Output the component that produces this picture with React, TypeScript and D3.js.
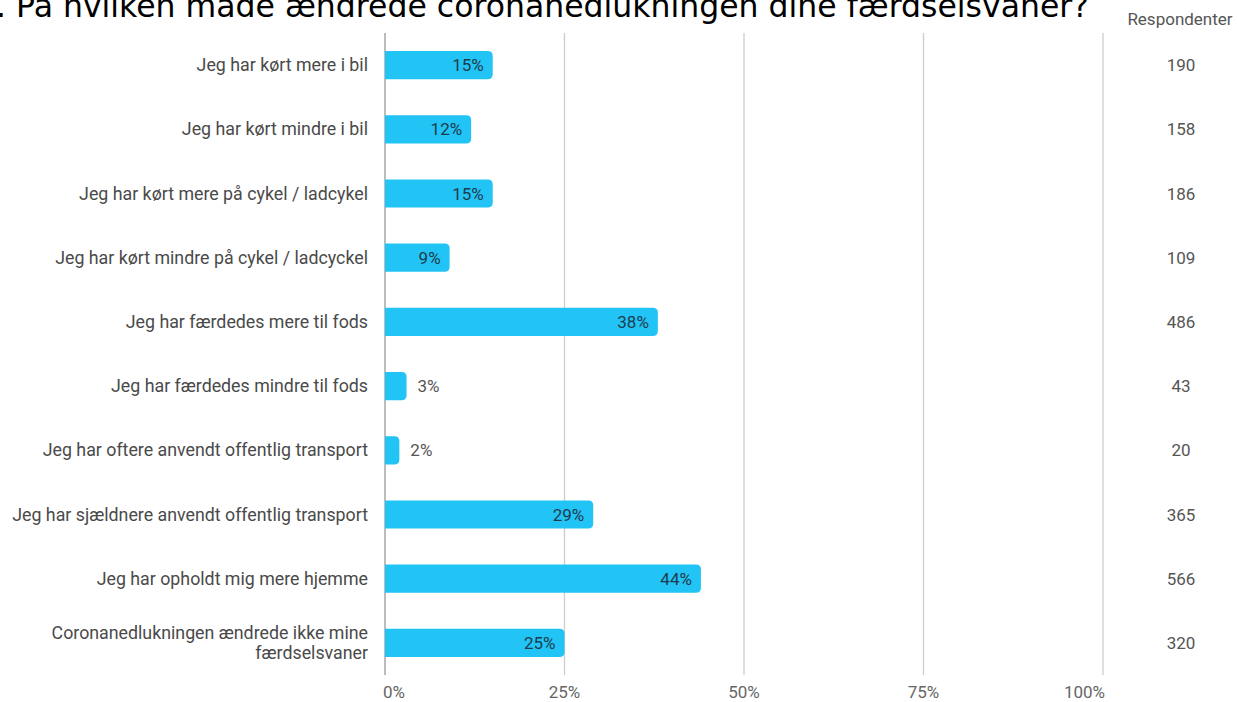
import React from "react";
import * as d3 from "d3";

const categories: string[][] = [
  ["Jeg har kørt mere i bil"],
  ["Jeg har kørt mindre i bil"],
  ["Jeg har kørt mere på cykel / ladcykel"],
  ["Jeg har kørt mindre på cykel / ladcyckel"],
  ["Jeg har færdedes mere til fods"],
  ["Jeg har færdedes mindre til fods"],
  ["Jeg har oftere anvendt offentlig transport"],
  ["Jeg har sjældnere anvendt offentlig transport"],
  ["Jeg har opholdt mig mere hjemme"],
  ["Coronanedlukningen ændrede ikke mine", "færdselsvaner"],
];
const percents = [15, 12, 15, 9, 38, 3, 2, 29, 44, 25];
const respondents = [190, 158, 186, 109, 486, 43, 20, 365, 566, 320];
const ticks = [0, 25, 50, 75, 100];
const title = "8. På hvilken måde ændrede coronanedlukningen dine færdselsvaner?";

const W = 1237;
const H = 702;
const FONT = "Roboto, 'Noto Sans', sans-serif";
const FS = 17.8;

export default function App() {
  const x = d3.scaleLinear().domain([0, 100]).range([385, 1103]);
  const y = d3
    .scaleBand<number>()
    .domain(d3.range(categories.length))
    .range([33, 675])
    .paddingInner(0.56)
    .paddingOuter(0.28);
  const bh = y.bandwidth();
  const r = 5;

  const barPath = (v: number, top: number) => {
    const x0 = x(0);
    const x1 = x(v);
    const w = x1 - x0;
    const rr = Math.min(r, w);
    return `M${x0},${top}H${x1 - rr}Q${x1},${top} ${x1},${top + rr}V${top + bh - rr}Q${x1},${top + bh} ${x1 - rr},${top + bh}H${x0}Z`;
  };

  return (
    <svg
      width={W}
      height={H}
      style={{ position: "absolute", left: 0, top: 0, background: "#fff" }}
      fontFamily={FONT}
    >
      <text x={-24} y={16.5} fontFamily="'DejaVu Sans', Verdana, sans-serif" fontSize={31.5} fill="#000">
        {title}
      </text>
      <text x={1180} y={25} textAnchor="middle" fontSize={17} fill="#555">
        Respondenter
      </text>
      {ticks.map((t, i) => (
        <g key={t}>
          <line
            x1={x(t)}
            x2={x(t)}
            y1={33}
            y2={675}
            stroke={t === 0 ? "#999" : "#ccc"}
            strokeWidth={1.3}
          />
          <text
            x={i === 0 ? x(t) - 2 : i === ticks.length - 1 ? x(t) + 2 : x(t)}
            y={698}
            textAnchor={i === 0 ? "start" : i === ticks.length - 1 ? "end" : "middle"}
            fontSize={17}
            fill="#666"
          >
            {t}%
          </text>
        </g>
      ))}
      {categories.map((lines, i) => {
        const top = y(i)!;
        const cy = top + bh / 2;
        const v = percents[i];
        const inside = v >= 5;
        return (
          <g key={i}>
            <path d={barPath(v, top)} fill="#22c3f5" />
            {lines.map((ln, k) => (
              <text
                key={k}
                x={368}
                y={cy + 6 + (k - (lines.length - 1) / 2) * 20}
                textAnchor="end"
                fontSize={FS}
                fill="#4a4a4a"
              >
                {ln}
              </text>
            ))}
            <text
              x={inside ? x(v) - 9 : x(v) + 11}
              y={cy + 6}
              textAnchor={inside ? "end" : "start"}
              fontSize={17}
              fill={inside ? "#1d3d4d" : "#555"}
            >
              {v}%
            </text>
            <text x={1181} y={cy + 6} textAnchor="middle" fontSize={17} fill="#555">
              {respondents[i]}
            </text>
          </g>
        );
      })}
    </svg>
  );
}
